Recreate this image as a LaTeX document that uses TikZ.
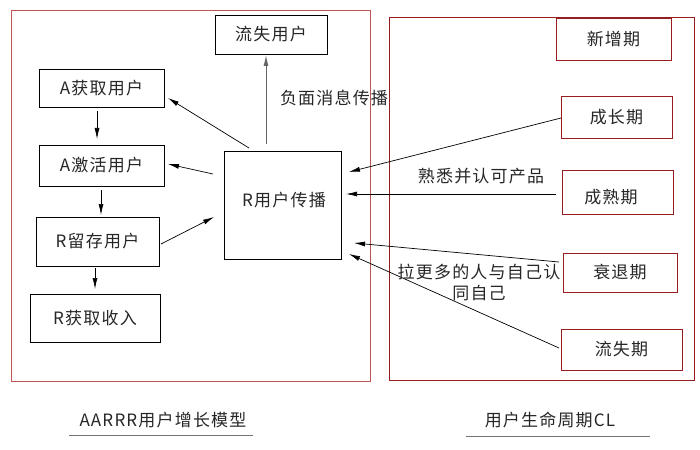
\documentclass[tikz,border=0pt]{standalone}
\usepackage{fontspec}
\setmainfont{Liberation Sans}
\newfontfamily\cjk[LetterSpace=7]{Noto Sans CJK SC}
\usetikzlibrary{arrows.meta}
\definecolor{frameL}{RGB}{190,85,85}
\definecolor{frameR}{RGB}{150,30,30}
\begin{document}
\begin{tikzpicture}[x=1pt,y=-1pt,
  every node/.style={font=\cjk\fontsize{17}{21}\selectfont, inner sep=0pt, text=black!85},
  bx/.style={draw=black, line width=0.8pt},
  rbx/.style={draw=frameR, line width=0.8pt},
  arr/.style={-{Latex[length=11pt,width=5pt]}, line width=0.7pt}]
\useasboundingbox (0,0) rectangle (700,449);
% frames
\draw[frameL, line width=1pt] (11,11) rectangle (370,381);
\draw[frameR, line width=0.8pt] (389,17) rectangle (694,380);
% left boxes
\node[bx, minimum width=112pt, minimum height=39pt] (churnU) at (271,34.5) {流失用户};
\node[bx, minimum width=125pt, minimum height=38pt] (acq) at (101.5,88) {A获取用户};
\node[bx, minimum width=125pt, minimum height=41pt] (act) at (101.5,165.5) {A激活用户};
\node[bx, minimum width=123pt, minimum height=49pt] (ret) at (97.5,241.5) {R留存用户};
\node[bx, minimum width=130pt, minimum height=48pt] (rev) at (95,318) {R获取收入};
\node[bx, minimum width=117pt, minimum height=108pt] (ref) at (282.5,205) {};
\node (refT) at (284,200) {R用户传播};
% right boxes
\node[rbx, minimum width=115pt, minimum height=42pt] (p1) at (613.5,39) {新增期};
\node[rbx, minimum width=111pt, minimum height=42pt] (p2) at (616.5,117) {成长期};
\node[rbx, minimum width=111pt, minimum height=44pt] (p3) at (617.5,192) {};
\node (p3T) at (611,197) {成熟期};
\node[rbx, minimum width=114pt, minimum height=39pt] (p4) at (620,272.5) {衰退期};
\node[rbx, minimum width=121pt, minimum height=41pt] (p5) at (621.5,349.5) {流失期};
% coordinates for arrow ends
\coordinate (a1s) at (97,111); \coordinate (a1e) at (97,139);
\coordinate (a2s) at (101,190); \coordinate (a2e) at (101,215);
\coordinate (a3s) at (95,268); \coordinate (a3e) at (95,289);
\coordinate (r1s) at (161,244); \coordinate (r1e) at (214,217);
\coordinate (f1s) at (249,148); \coordinate (f1e) at (168,98);
\coordinate (f2s) at (213,174); \coordinate (f2e) at (168,164);
\coordinate (f3s) at (266,144); \coordinate (f3e) at (266,55);
\coordinate (g1s) at (561,118); \coordinate (g1e) at (349,172);
\coordinate (g2s) at (556,194); \coordinate (g2e) at (346,194);
\coordinate (g3s) at (559,262); \coordinate (g3e) at (354,243);
\coordinate (g4s) at (559,348); \coordinate (g4e) at (349,254);
% arrows
\draw[arr] (a1s) -- (a1e);
\draw[arr] (a2s) -- (a2e);
\draw[arr] (a3s) -- (a3e);
\draw[arr] (r1s) -- (r1e);
\draw[arr] (f1s) -- (f1e);
\draw[arr] (f2s) -- (f2e);
\draw[arr, draw=black!60, line width=1pt] (f3s) -- (f3e);
\draw[arr] (g1s) -- (g1e);
\draw[arr] (g2s) -- (g2e);
\draw[arr] (g3s) -- (g3e);
\draw[arr] (g4s) -- (g4e);
% labels
\node (l1) at (334,98) {负面消息传播};
\node (l2) at (481,176) {熟悉并认可产品};
\node[align=center] (l3) at (479,282) {拉更多的人与自己认\\同自己};
% bottom captions
\node (c1) at (163,420) {AARRR用户增长模型};
\node (c2) at (550,420) {用户生命周期CL};
\coordinate (u1a) at (69,435); \coordinate (u1b) at (253,435);
\coordinate (u2a) at (466,436); \coordinate (u2b) at (650,436);
\draw[black!55, line width=1pt] (u1a) -- (u1b);
\draw[black!55, line width=1pt] (u2a) -- (u2b);
\end{tikzpicture}
\end{document}
